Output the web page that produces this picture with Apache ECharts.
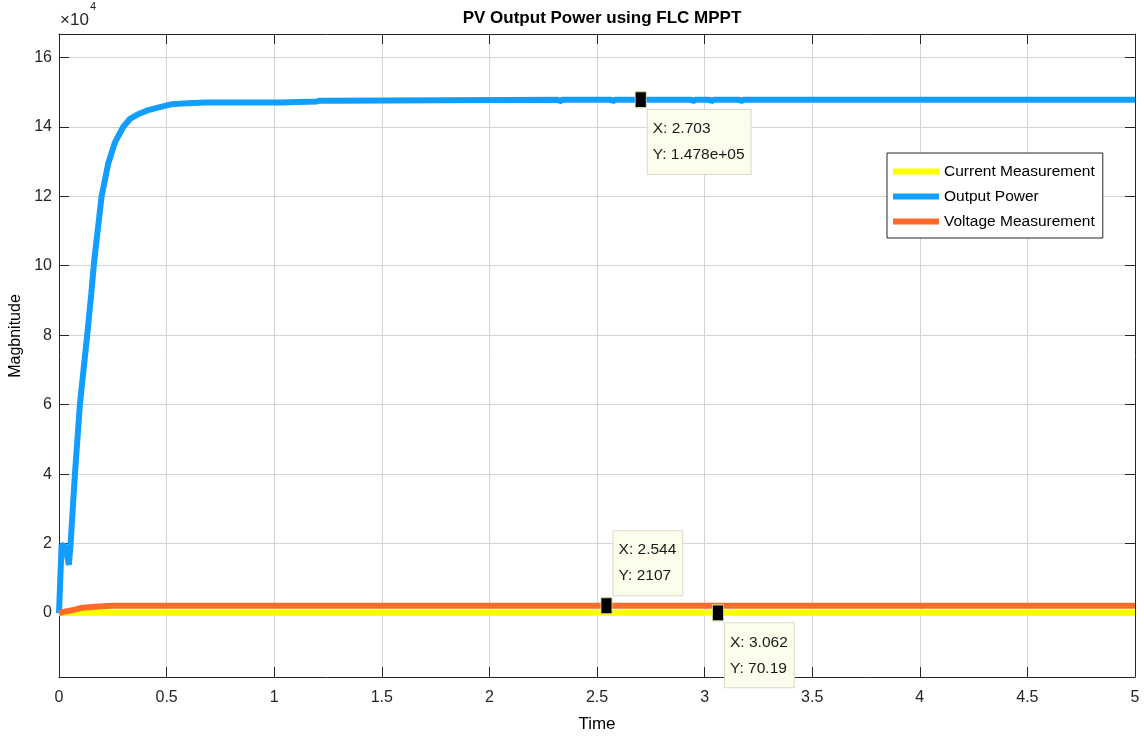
<!DOCTYPE html>
<html>
<head>
<meta charset="utf-8">
<script src="https://cdn.jsdelivr.net/npm/echarts@6/dist/echarts.min.js"></script>
<style>
html,body{margin:0;padding:0;background:#fff;}
#chart{width:1144px;height:737px;}
</style>
</head>
<body>
<div id="chart"></div>
<script>
// ---- data ----
const titleText = 'PV Output Power using FLC MPPT';
const xName = 'Time';
const yName = 'Magbnitude';
const seriesNames = ['Current Measurement', 'Output Power', 'Voltage Measurement'];
const xTicks = [0, 0.5, 1, 1.5, 2, 2.5, 3, 3.5, 4, 4.5, 5];
const yTicks = [0, 20000, 40000, 60000, 80000, 100000, 120000, 140000, 160000];

const currentT = [0, 0.05, 0.15, 0.25, 5];
const currentV = [0, 40, 62, 70, 70.19];

const powerT = [0, 0.012, 0.028, 0.046, 0.054, 0.074, 0.097, 0.114, 0.131, 0.15, 0.164, 0.198, 0.229, 0.26, 0.299, 0.33, 0.368, 0.41, 0.446, 0.524, 0.6, 0.678, 1.03, 1.035, 1.2, 1.21, 1.27, 1.275,
  2.32, 2.325, 2.333, 2.338, 2.568, 2.572, 2.58, 2.584, 2.94, 2.944, 2.952, 2.956, 3.026, 3.03, 3.038, 3.042, 3.164, 3.168, 3.176, 3.18, 5];
const powerW = [0, 19600, 19300, 13900, 20000, 40000, 60000, 70000, 80000, 92000, 101600, 120000, 129500, 135500, 140000, 142300, 143600, 144700, 145300, 146500, 146800, 147000, 147000, 147300, 147300, 147500, 147500, 147800,
  147800, 147200, 147200, 147800, 147800, 147200, 147200, 147800, 147800, 147200, 147200, 147800, 147800, 147200, 147200, 147800, 147800, 147200, 147200, 147800, 147800];

const voltageT = [0, 0.02, 0.05, 0.074, 0.1, 0.137, 0.17, 0.2, 0.245, 5];
const voltageV = [0, 350, 700, 1000, 1450, 1700, 1850, 1950, 2107, 2107];

// data tips
const tipX = [2.703, 2.544, 3.062];
const tipY = [147800, 2107, 70.19];
const tipLabelX = ['2.703', '2.544', '3.062'];
const tipLabelY = ['1.478e+05', '2107', '70.19'];

// ---- build ----
const FONT = "'Liberation Sans', Arial, sans-serif";
const TXT = '#262626';
const colors = ['#ffff00', '#129eff', '#ff6929'];
const pairs = (t, v) => t.map((x, i) => [x, v[i]]);
const seriesData = [pairs(currentT, currentV), pairs(powerT, powerW), pairs(voltageT, voltageV)];
const tipSeries = [1, 2, 0];
const tipOffsets = [[13, 19], [13, -66], [13, 19]];

const chart = echarts.init(document.getElementById('chart'), null, {renderer: 'canvas'});

const series = seriesNames.map((name, si) => {
  const marks = [];
  tipX.forEach((x, k) => {
    if (tipSeries[k] === si) {
      marks.push({
        coord: [x, tipY[k]],
        symbol: 'rect',
        symbolSize: [11, 16],
        itemStyle: {color: '#000', borderColor: '#d8d4a0', borderWidth: 1},
        label: {
          show: true,
          position: tipOffsets[k],
          align: 'left',
          verticalAlign: 'top',
          formatter: 'X: ' + tipLabelX[k] + '\nY: ' + tipLabelY[k],
          fontFamily: FONT,
          fontSize: 15.5,
          lineHeight: 26,
          color: '#1a1a1a',
          backgroundColor: '#fdfdec',
          borderColor: '#d9d9cc',
          borderWidth: 1,
          padding: [6, 6, 6, 5]
        }
      });
    }
  });
  return {
    name: name,
    type: 'line',
    data: seriesData[si],
    showSymbol: false,
    symbol: 'none',
    lineStyle: {color: colors[si], width: 6},
    itemStyle: {color: colors[si]},
    z: 2 + si,
    markPoint: marks.length ? {data: marks, animation: false, z: 10} : undefined
  };
});

const option = {
  animation: false,
  backgroundColor: '#fff',
  title: {
    text: titleText,
    left: 597,
    top: 5,
    textAlign: 'center',
    textStyle: {fontFamily: FONT, fontWeight: 'bold', fontSize: 17, color: '#000'}
  },
  legend: {
    data: seriesNames.map((n, i) => ({name: n, icon: 'rect', itemStyle: {color: colors[i]}})),
    orient: 'vertical',
    left: 887,
    top: 153,
    itemWidth: 46,
    itemHeight: 6,
    itemGap: 6,
    padding: [9, 8, 7, 6],
    backgroundColor: '#fff',
    borderColor: '#262626',
    borderWidth: 1,
    borderRadius: 0,
    textStyle: {fontFamily: FONT, fontSize: 15.5, color: '#000', lineHeight: 19}
  },
  grid: {left: 59, right: 9, top: 34, bottom: 60, containLabel: false, outerBoundsMode: 'none'},
  xAxis: [{
    type: 'value', min: 0, max: 5, interval: 0.5,
    axisLine: {show: true, onZero: false, lineStyle: {color: TXT, width: 1}},
    axisTick: {show: true, inside: true, length: 10, lineStyle: {color: TXT}},
    axisLabel: {color: TXT, fontFamily: FONT, fontSize: 16, margin: 13,
      formatter: v => String(+v.toFixed(1))},
    splitLine: {show: true, lineStyle: {color: '#d4d4d4', width: 1}},
    name: xName, nameLocation: 'middle', nameGap: 39,
    nameTextStyle: {fontFamily: FONT, fontSize: 17, color: '#000'}
  }, {
    type: 'value', min: 0, max: 5, interval: 0.5, position: 'top',
    axisLine: {show: true, onZero: false, lineStyle: {color: TXT, width: 1}},
    axisTick: {show: true, inside: true, length: 10, lineStyle: {color: TXT}},
    axisLabel: {show: false}, splitLine: {show: false}
  }],
  yAxis: [{
    type: 'value', min: -18400, max: 166700,
    axisLine: {show: true, onZero: false, lineStyle: {color: TXT, width: 1}},
    axisTick: {show: true, inside: true, length: 10, customValues: yTicks, lineStyle: {color: TXT}},
    axisLabel: {color: TXT, fontFamily: FONT, fontSize: 16, margin: 7, customValues: yTicks,
      formatter: v => String(Math.round(v / 10000))},
    splitLine: {show: true, lineStyle: {color: '#d4d4d4', width: 1}}
  }, {
    type: 'value', min: -18400, max: 166700, position: 'right',
    axisLine: {show: true, onZero: false, lineStyle: {color: TXT, width: 1}},
    axisTick: {show: true, inside: true, length: 10, customValues: yTicks, lineStyle: {color: TXT}},
    axisLabel: {show: false, customValues: yTicks}, splitLine: {show: false}
  }],
  graphic: [
    {type: 'text', left: 60, top: 12, style: {text: '\u00d710', font: "17px " + FONT, fill: TXT}},
    {type: 'text', left: 90, top: 1, style: {text: '4', font: "11px " + FONT, fill: TXT}},
    {type: 'text', x: 16, y: 336, rotation: Math.PI / 2,
      style: {text: yName, font: "16px " + FONT, fill: '#000', align: 'center', verticalAlign: 'middle'}}
  ],
  series: series
};
chart.setOption(option);
</script>
</body>
</html>
